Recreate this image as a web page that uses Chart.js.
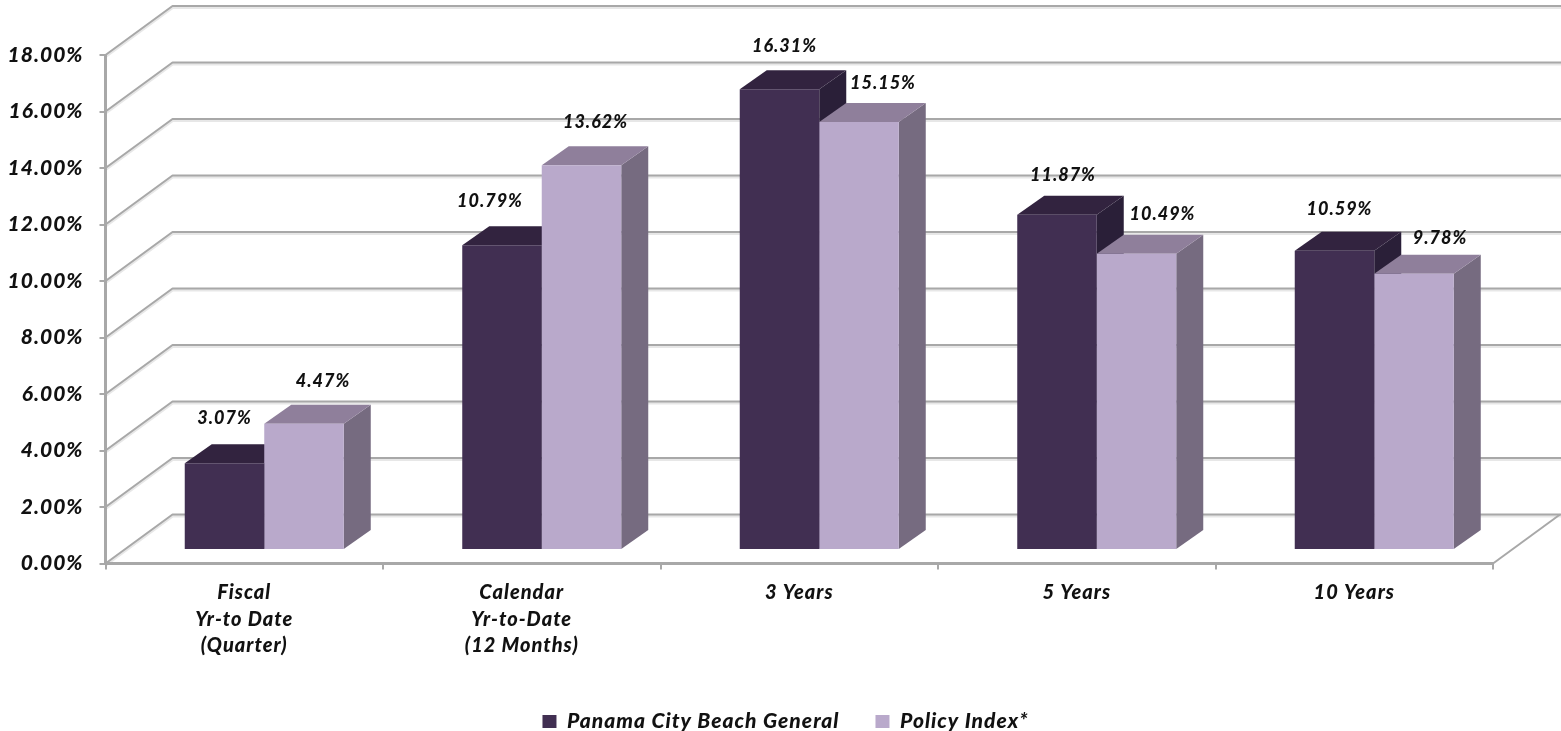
<!DOCTYPE html>
<html>
<head>
<meta charset="utf-8">
<title>Investment returns</title>
<script src="https://cdn.jsdelivr.net/npm/chart.js@4/dist/chart.umd.min.js"></script>
<style>
html,body{margin:0;padding:0;background:#fff;}
#wrap{position:relative;width:1561px;height:731px;}
</style>
</head>
<body>
<div id="wrap"><canvas id="c" width="1561" height="731"></canvas></div>
<script>
const categories = [
  ["Fiscal", "Yr-to Date", "(Quarter)"],
  ["Calendar", "Yr-to-Date", "(12 Months)"],
  "3 Years",
  "5 Years",
  "10 Years"
];
const seriesNames = ["Panama City Beach General", "Policy Index*"];
const panamaCityBeachGeneral = [3.07, 10.79, 16.31, 11.87, 10.59];
const policyIndex = [4.47, 13.62, 15.15, 10.49, 9.78];
const yMax = 18;
const yStep = 2;

// Oblique projection of the chart box: how far the back wall sits from the front plane.
const wallDepth = { x: 67, y: -49 };
// Where the bars stand on the floor, and how deep each bar is.
const barShift = { x: 20, y: -13.5 };
const barDepth = { x: 27, y: -19 };
// Value label nudges relative to the centre of each bar's top edge.
const labelNudge = [
  [[0, -45], [-12, -44], [5, -43], [6, -39], [5, -42]],
  [[19, -43], [14, -43], [24, -39], [26, -39], [26, -36]]
];

const faces = [
  { front: "#412f52", top: "#32233f", side: "#2a1f38" },
  { front: "#b9a9cb", top: "#8f7f9b", side: "#766b80" }
];
const gridColor = "#a8a8a8";
const gridHalo = "rgba(170,170,170,0.28)";
const fontFamily = "Lato, Carlito, 'Open Sans', sans-serif";
const fontWeight = "900";
const legendBoxTop = 715;

function strokeSegments(ctx, pts, color, width) {
  ctx.beginPath();
  pts.forEach((p, i) => (i ? ctx.lineTo(p[0], p[1]) : ctx.moveTo(p[0], p[1])));
  ctx.strokeStyle = color;
  ctx.lineWidth = width;
  ctx.stroke();
}

function polygon(ctx, pts, color) {
  ctx.beginPath();
  pts.forEach((p, i) => (i ? ctx.lineTo(p[0], p[1]) : ctx.moveTo(p[0], p[1])));
  ctx.closePath();
  ctx.fillStyle = color;
  ctx.fill();
}

const box3d = {
  id: "box3d",
  beforeUpdate(chart) {
    // The chart's lettering is set slightly open throughout.
    chart.ctx.letterSpacing = "1px";
  },
  afterLayout(chart) {
    // Centre the legend on the drawing surface and seat it near the bottom edge.
    const lg = chart.legend;
    const pad = lg.options.labels.padding;
    lg.left = 10;
    lg.right = chart.width;
    lg.top = legendBoxTop - pad - 4;
  },
  beforeDatasetsDraw(chart) {
    const { ctx, scales: { x, y } } = chart;
    const left = x.left, right = x.right, bottom = y.bottom;
    ctx.save();
    ctx.lineJoin = "round";
    y.ticks.forEach(t => {
      const py = y.getPixelForValue(t.value);
      const path = [[left, py], [left + wallDepth.x, py + wallDepth.y], [chart.width, py + wallDepth.y]];
      strokeSegments(ctx, path.map(p => [p[0], p[1] + 1.5]), gridHalo, 3);
      strokeSegments(ctx, path, gridColor, 2);
    });
    // Right-hand edge of the floor
    strokeSegments(ctx, [[right, bottom], [right + wallDepth.x, bottom + wallDepth.y]], gridColor, 2);

    // Depth faces go down in series order, so each later bar's faces cover the neighbour's.
    ctx.translate(barShift.x, barShift.y);
    chart.data.datasets.forEach((ds, di) => {
      const col = faces[di];
      chart.getDatasetMeta(di).data.forEach(bar => {
        const l = bar.x - bar.width / 2, r = bar.x + bar.width / 2;
        const t = bar.y, b = bar.base;
        const dx = barDepth.x, dy = barDepth.y;
        polygon(ctx, [[r, t], [r + dx, t + dy], [r + dx, b + dy], [r, b]], col.side);
        polygon(ctx, [[l, t], [l + dx, t + dy], [r + dx, t + dy], [r, t]], col.top);
      });
    });
    ctx.restore();
  },
  beforeDatasetDraw(chart) {
    // Front faces are the library's own bars, moved onto the floor.
    chart.ctx.save();
    chart.ctx.translate(barShift.x, barShift.y);
  },
  afterDatasetDraw(chart) {
    chart.ctx.restore();
  },
  afterDatasetsDraw(chart) {
    const { ctx } = chart;
    ctx.save();
    ctx.font = "italic " + fontWeight + " 18px " + fontFamily;
    ctx.fillStyle = "#111";
    ctx.textAlign = "center";
    ctx.textBaseline = "middle";
    chart.data.datasets.forEach((ds, di) => {
      chart.getDatasetMeta(di).data.forEach((bar, i) => {
        const n = labelNudge[di][i];
        ctx.fillText(ds.data[i].toFixed(2) + "%", bar.x + barShift.x + n[0], bar.y + barShift.y + n[1]);
      });
    });
    ctx.restore();
  }
};

new Chart(document.getElementById("c"), {
  type: "bar",
  data: {
    labels: categories,
    datasets: [
      { label: seriesNames[0], data: panamaCityBeachGeneral, backgroundColor: faces[0].front },
      { label: seriesNames[1], data: policyIndex, backgroundColor: faces[1].front }
    ]
  },
  options: {
    responsive: false,
    animation: false,
    layout: { padding: { top: 55, right: 68, left: 0, bottom: 0 } },
    datasets: { bar: { categoryPercentage: 0.573, barPercentage: 1, borderWidth: 0, clip: false } },
    scales: {
      x: {
        grid: { display: true, offset: true, drawOnChartArea: false, color: gridColor, lineWidth: 2, tickLength: 6 },
        border: { display: true, color: gridColor, width: 3 },
        ticks: {
          color: "#111", padding: 10, maxRotation: 0, minRotation: 0, autoSkip: false,
          font: { family: fontFamily, size: 20, style: "italic", weight: fontWeight, lineHeight: 1.33 }
        },
        afterFit(scale) { scale.height = 731 - 563.5 - scale.chart.legend.height; }
      },
      y: {
        min: 0, max: yMax,
        grid: { display: true, drawOnChartArea: false, color: gridColor, lineWidth: 2, tickLength: 6 },
        border: { display: true, color: gridColor, width: 3 },
        ticks: {
          stepSize: yStep, color: "#111", padding: 16,
          font: { family: fontFamily, size: 21, style: "italic", weight: fontWeight },
          callback: v => v.toFixed(2) + "%"
        },
        afterFit(scale) { scale.width = 105.5; }
      }
    },
    plugins: {
      legend: {
        position: "bottom",
        labels: {
          boxWidth: 14, boxHeight: 13, padding: 36, color: "#111",
          font: { family: fontFamily, size: 21, style: "italic", weight: fontWeight }
        }
      },
      tooltip: { enabled: false }
    }
  },
  plugins: [box3d]
});
</script>
</body>
</html>
